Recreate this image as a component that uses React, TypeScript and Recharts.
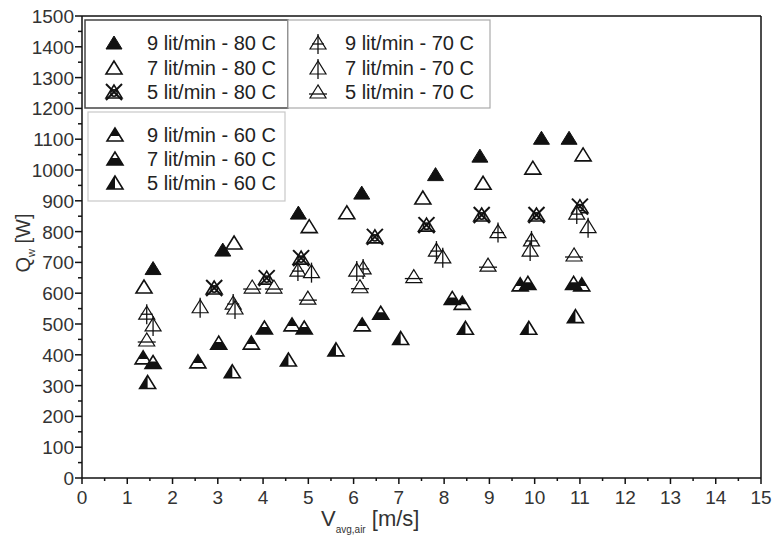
import React from 'react';
import { ScatterChart, Scatter, XAxis, YAxis, ReferenceLine, Customized } from 'recharts';

// Air velocity [m/s] vs heat rate [W], one list of [V, Q] pairs per series
const s9_80: number[][] = [[1.57, 680], [3.11, 740], [4.78, 860], [6.18, 925], [7.81, 985], [8.79, 1045], [10.15, 1103], [10.76, 1103]];
const s7_80: number[][] = [[1.37, 620], [3.36, 763], [5.02, 816], [5.85, 861], [7.53, 909], [8.86, 957], [9.96, 1006], [11.07, 1049]];
const s5_80: number[][] = [[2.92, 617], [4.08, 649], [4.84, 714], [6.47, 783], [7.61, 821], [8.83, 854], [10.04, 854], [11.0, 881]];
const s9_70: number[][] = [[1.43, 535], [3.34, 568], [4.77, 675], [6.21, 682], [7.83, 740], [9.19, 800], [9.93, 773], [10.93, 860]];
const s7_70: number[][] = [[1.57, 497], [2.61, 556], [3.38, 552], [5.07, 670], [6.07, 675], [7.97, 718], [9.9, 740], [11.18, 816]];
const s5_70: number[][] = [[1.43, 448], [3.76, 620], [4.24, 620], [4.99, 584], [6.14, 621], [7.33, 654], [8.97, 691], [10.87, 724]];
const s9_60: number[][] = [[1.35, 390], [2.56, 377], [3.74, 438], [4.64, 497], [6.19, 497], [8.4, 567], [9.68, 627], [11.04, 627]];
const s7_60: number[][] = [[1.57, 375], [3.02, 438], [4.03, 487], [4.91, 487], [6.6, 535], [8.18, 583], [9.85, 632], [10.86, 632]];
const s5_60: number[][] = [[1.45, 310], [3.32, 345], [4.56, 383], [5.61, 416], [7.04, 453], [8.47, 486], [9.87, 486], [10.9, 524]];

const xTicks: number[] = Array.from({ length: 31 }, (_, i) => i * 0.5);
const yTicks: number[] = Array.from({ length: 31 }, (_, i) => i * 50);

const series = [
  { name: '9 lit/min - 80 C', kind: 'filled', data: s9_80 },
  { name: '7 lit/min - 80 C', kind: 'open', data: s7_80 },
  { name: '5 lit/min - 80 C', kind: 'xtri', data: s5_80 },
  { name: '9 lit/min - 70 C', kind: 'cross', data: s9_70 },
  { name: '7 lit/min - 70 C', kind: 'vert', data: s7_70 },
  { name: '5 lit/min - 70 C', kind: 'hline', data: s5_70 },
  { name: '9 lit/min - 60 C', kind: 'topfill', data: s9_60 },
  { name: '7 lit/min - 60 C', kind: 'botfill', data: s7_60 },
  { name: '5 lit/min - 60 C', kind: 'leftfill', data: s5_60 },
];

const INK = '#111';
const FONT = 'Liberation Sans, Arial, sans-serif';

function marker(kind: string, cx: number, cy: number) {
  if (cx == null || cy == null || isNaN(cx) || isNaN(cy)) return <g />;
  const top = cy - 7;
  const bot = cy + 6;
  const tri = `${cx},${top} ${cx - 8},${bot} ${cx + 8},${bot}`;
  const outline = <polygon points={tri} fill="#fff" stroke={INK} strokeWidth={1.6} strokeLinejoin="miter" />;
  switch (kind) {
    case 'filled':
      return <polygon points={tri} fill={INK} stroke={INK} strokeWidth={1} />;
    case 'open':
      return outline;
    case 'xtri':
      return (
        <g>
          {outline}
          <line x1={cx - 8} y1={cy - 8} x2={cx + 8} y2={cy + 8} stroke={INK} strokeWidth={2} />
          <line x1={cx + 8} y1={cy - 8} x2={cx - 8} y2={cy + 8} stroke={INK} strokeWidth={2} />
          <circle cx={cx} cy={cy + 1} r={3.2} fill="none" stroke={INK} strokeWidth={1.5} />
        </g>
      );
    case 'cross':
      return (
        <g>
          <polygon points={tri} fill="#fff" stroke={INK} strokeWidth={1.2} />
          <line x1={cx} y1={top - 2} x2={cx} y2={bot + 5} stroke={INK} strokeWidth={1.3} />
          <line x1={cx - 6} y1={cy + 1} x2={cx + 6} y2={cy + 1} stroke={INK} strokeWidth={1.3} />
        </g>
      );
    case 'vert':
      return (
        <g>
          <polygon points={tri} fill="#fff" stroke={INK} strokeWidth={1.2} />
          <line x1={cx} y1={top - 2} x2={cx} y2={bot + 5} stroke={INK} strokeWidth={1.3} />
        </g>
      );
    case 'hline':
      return (
        <g>
          <polygon points={tri} fill="#fff" stroke={INK} strokeWidth={1.2} />
          <line x1={cx - 9} y1={cy + 2} x2={cx + 9} y2={cy + 2} stroke={INK} strokeWidth={1.3} />
        </g>
      );
    case 'topfill': {
      const yy = cy + 1;
      const hw = (8 * (yy - top)) / (bot - top);
      return (
        <g>
          {outline}
          <polygon points={`${cx},${top} ${cx - hw},${yy} ${cx + hw},${yy}`} fill={INK} />
        </g>
      );
    }
    case 'botfill': {
      const yy = cy - 1;
      const hw = (8 * (yy - top)) / (bot - top);
      return (
        <g>
          {outline}
          <polygon points={`${cx - hw},${yy} ${cx + hw},${yy} ${cx + 8},${bot} ${cx - 8},${bot}`} fill={INK} />
        </g>
      );
    }
    case 'leftfill':
      return (
        <g>
          {outline}
          <polygon points={`${cx},${top} ${cx - 8},${bot} ${cx},${bot}`} fill={INK} />
        </g>
      );
    default:
      return outline;
  }
}

const XTick = (props: any) => {
  const { x, y, payload } = props;
  const v = payload.value as number;
  const major = Math.abs(v - Math.round(v)) < 1e-6;
  return (
    <g>
      <line x1={x} x2={x} y1={y} y2={y + (major ? 6 : 3)} stroke={INK} strokeWidth={1.5} />
      {major && (
        <text x={x} y={y + 26} textAnchor="middle" fontSize={19} fill="#333" fontFamily={FONT}>
          {v}
        </text>
      )}
    </g>
  );
};

const YTick = (props: any) => {
  const { x, y, payload } = props;
  const v = payload.value as number;
  const major = v % 100 === 0;
  return (
    <g>
      <line x1={x} x2={x - (major ? 7 : 4)} y1={y} y2={y} stroke={INK} strokeWidth={1.5} />
      {major && (
        <text x={x - 8} y={y + 7} textAnchor="end" fontSize={19} fill="#333" fontFamily={FONT}>
          {v}
        </text>
      )}
    </g>
  );
};

const Overlay = () => {
  const rows1 = [0, 1, 2];
  const rowY = [43, 68, 92];
  const rowY3 = [135, 159, 183];
  return (
    <g fontFamily={FONT}>
      <rect x={85} y={20} width={203} height={88} fill="#fff" stroke="#444" strokeWidth={1.5} />
      <rect x={288} y={20} width={202} height={88} fill="#fff" stroke="#aaa" strokeWidth={1.2} />
      <rect x={88} y={112} width={197} height={89} fill="#fff" stroke="#c8c8c8" strokeWidth={1.2} />
      {rows1.map((i) => (
        <g key={'a' + i}>
          {marker(series[i].kind, 114, rowY[i])}
          <text x={147} y={rowY[i] + 7} fontSize={20} fill="#222">{series[i].name}</text>
        </g>
      ))}
      {rows1.map((i) => (
        <g key={'b' + i}>
          {marker(series[i + 3].kind, 318, rowY[i])}
          <text x={345} y={rowY[i] + 7} fontSize={20} fill="#222">{series[i + 3].name}</text>
        </g>
      ))}
      {rows1.map((i) => (
        <g key={'c' + i}>
          {marker(series[i + 6].kind, 115, rowY3[i])}
          <text x={147} y={rowY3[i] + 7} fontSize={20} fill="#222">{series[i + 6].name}</text>
        </g>
      ))}
      <g transform="rotate(-90, 30, 243)">
        <text x={30} y={243} textAnchor="middle" fontSize={20} fill="#333">
          <tspan>Q</tspan>
          <tspan fontSize={11} dy={5}>w</tspan>
          <tspan dy={-5}> [W]</tspan>
        </text>
      </g>
      <text x={321} y={526} fontSize={22} fill="#333">
        <tspan>V</tspan>
        <tspan fontSize={10} dy={7}>avg,air</tspan>
        <tspan dy={-7}> [m/s]</tspan>
      </text>
    </g>
  );
};

export default function App() {
  return (
    <div style={{ position: 'absolute', left: 0, top: 0, width: 772, height: 541, background: '#fff' }}>
      <ScatterChart width={772} height={541} margin={{ top: 16, right: 11, bottom: 0, left: 0 }}>
        <XAxis
          type="number"
          dataKey="x"
          domain={[0, 15]}
          ticks={xTicks}
          interval={0}
          height={63}
          tickSize={0}
          tickMargin={0}
          tickLine={false}
          tick={<XTick />}
          axisLine={{ stroke: INK, strokeWidth: 1.5 }}
          allowDataOverflow
        />
        <YAxis
          type="number"
          dataKey="y"
          domain={[0, 1500]}
          ticks={yTicks}
          interval={0}
          width={82}
          tickSize={0}
          tickMargin={0}
          tickLine={false}
          tick={<YTick />}
          axisLine={{ stroke: INK, strokeWidth: 1.5 }}
          allowDataOverflow
        />
        <ReferenceLine y={1500} stroke={INK} strokeWidth={1.5} />
        <ReferenceLine x={15} stroke={INK} strokeWidth={1.5} />
        {series.map((s) => (
          <Scatter
            key={s.name}
            name={s.name}
            data={s.data.map(([x, y]) => ({ x, y }))}
            isAnimationActive={false}
            shape={(p: any) => marker(s.kind, p.cx, p.cy)}
          />
        ))}
        <Customized component={Overlay} />
      </ScatterChart>
    </div>
  );
}
